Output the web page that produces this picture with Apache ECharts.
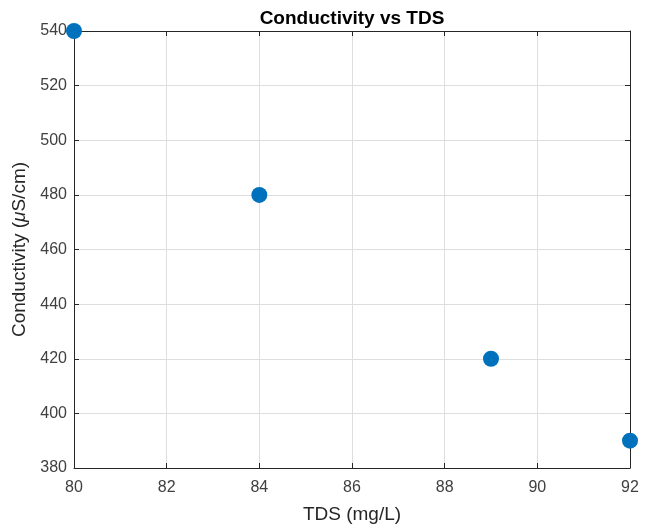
<!DOCTYPE html>
<html>
<head>
<meta charset="utf-8">
<script src="https://cdn.jsdelivr.net/npm/echarts@6/dist/echarts.min.js"></script>
<style>
html,body{margin:0;padding:0;background:#fff;}
#chart{width:650px;height:529px;}
</style>
</head>
<body>
<div id="chart"></div>
<script>
const tds = [80, 84, 89, 92];
const conductivity = [540, 480, 420, 390];
const titleText = 'Conductivity vs TDS';
const xName = 'TDS (mg/L)';

const points = tds.map((x, i) => [x, conductivity[i]]);
const font = '"Liberation Sans", Arial, Helvetica, sans-serif';
const axisColor = '#262626';
const labelColor = '#404040';

const chart = echarts.init(document.getElementById('chart'), null, {renderer: 'canvas'});
const common = {
  axisLine: {show: true, onZero: false, lineStyle: {color: axisColor, width: 1}},
  axisTick: {show: true, inside: true, length: 5, lineStyle: {color: axisColor}},
  splitLine: {show: true, lineStyle: {color: '#dedede', width: 1}}
};
chart.setOption({
  animation: false,
  backgroundColor: '#ffffff',
  title: {
    text: titleText, left: 347, top: 4, textAlign: 'center',
    textStyle: {fontFamily: font, fontSize: 19, fontWeight: 'bold', color: '#000'}
  },
  grid: {left: 74, right: 20, top: 31, bottom: 58, containLabel: false},
  xAxis: [
    Object.assign({}, common, {
      type: 'value', position: 'bottom', min: 80, max: 92, interval: 2,
      axisLabel: {fontFamily: font, fontSize: 16, color: labelColor, margin: 12},
      name: xName, nameLocation: 'middle', nameGap: 37,
      nameTextStyle: {fontFamily: font, fontSize: 19, color: '#262626'}
    }),
    Object.assign({}, common, {
      type: 'value', position: 'top', min: 80, max: 92, interval: 2,
      axisLabel: {show: false}, splitLine: {show: false}
    })
  ],
  yAxis: [
    Object.assign({}, common, {
      type: 'value', position: 'left', min: 380, max: 540, interval: 20,
      axisLabel: {fontFamily: font, fontSize: 16, color: labelColor, margin: 7},
      name: '{a|Conductivity (}{b|μ}{a|S/cm)}', nameLocation: 'middle', nameGap: 40,
      nameTextStyle: {
        fontFamily: font, fontSize: 19, color: '#262626',
        rich: {
          a: {fontFamily: font, fontSize: 19, color: '#262626'},
          b: {fontFamily: font, fontSize: 19, color: '#262626', fontStyle: 'italic'}
        }
      }
    }),
    Object.assign({}, common, {
      type: 'value', position: 'right', min: 380, max: 540, interval: 20,
      axisLabel: {show: false}, splitLine: {show: false}
    })
  ],
  series: [{
    type: 'scatter',
    data: points,
    symbol: 'circle',
    symbolSize: 16,
    clip: false,
    itemStyle: {color: '#0072BD', opacity: 1}
  }]
});
</script>
</body>
</html>
